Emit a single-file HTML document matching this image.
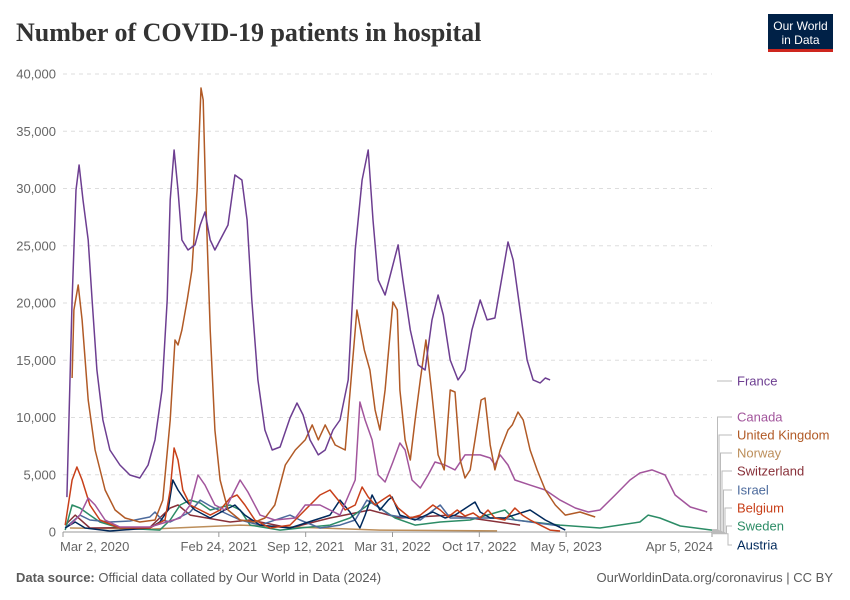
<!DOCTYPE html>
<html><head><meta charset="utf-8"><style>
body{margin:0;background:#fff;font-family:"Liberation Sans",sans-serif;}
#wrap{position:relative;width:850px;height:600px;overflow:hidden;}
</style></head><body>
<div id="wrap">
<svg id="chart" width="850" height="600" xmlns="http://www.w3.org/2000/svg">
<text x="16" y="41" font-family="Liberation Serif,serif" font-size="26" font-weight="bold" fill="#333">Number of COVID-19 patients in hospital</text>
<g>
<rect x="768" y="14" width="65" height="37" fill="#002147"/>
<rect x="768" y="49" width="65" height="3" fill="#ce261e"/>
<text x="800.5" y="30" text-anchor="middle" font-size="12" fill="#fff">Our World</text>
<text x="800.5" y="44" text-anchor="middle" font-size="12" fill="#fff">in Data</text>
</g>
<g id="grid"></g><g id="xaxis"></g><g id="series"></g><g id="legend"></g>
<text x="16" y="582" font-size="13" fill="#5b5b5b"><tspan font-weight="bold">Data source:</tspan> Official data collated by Our World in Data (2024)</text>
<text x="833" y="582" text-anchor="end" font-size="13" fill="#5b5b5b">OurWorldinData.org/coronavirus | CC BY</text>
</svg></div>
<script>
const yTicks=[0,5000,10000,15000,20000,25000,30000,35000,40000];
const xTickDays=[0,359,559,759,959,1159,1495];
const xTickLabels=["Mar 2, 2020","Feb 24, 2021","Sep 12, 2021","Mar 31, 2022","Oct 17, 2022","May 5, 2023","Apr 5, 2024"];
const seriesNames=["France","Canada","United Kingdom","Norway","Switzerland","Israel","Belgium","Sweden","Austria"];
const seriesColors=["#6D3E91","#A2559C","#B15A26","#BC8E5A","#883039","#4C6A9C","#C8401A","#2C8C66","#00295B"];
const france=[[9,3050],[21,20260],[30,29870],[37,32050],[46,29000],[58,25500],[67,20260],[78,14150],[92,9780],[108,7160],[131,5850],[154,4980],[177,4720],[196,5850],[212,8040],[228,12400],[240,20260],[247,29000],[256,33360],[265,29870],[274,25500],[288,24630],[304,25070],[316,26810],[327,27950],[339,25500],[350,24630],[362,25500],[380,26810],[396,31180],[412,30740],[424,27250],[435,20260],[449,13280],[465,8910],[482,7160],[500,7420],[523,9960],[539,11270],[553,10220],[569,8040],[588,6730],[604,7160],[622,8910],[638,9780],[657,13280],[673,24630],[689,30740],[703,33360],[714,27250],[726,22010],[742,20700],[757,22880],[772,25070],[783,22010],[800,17640],[818,14590],[834,14150],[850,18520],[864,20700],[876,18950],[892,15020],[910,13280],[926,14150],[942,17640],[961,20260],[977,18520],[995,18690],[1014,22880],[1025,25330],[1037,23750],[1053,19390],[1069,15020],[1083,13280],[1099,13010],[1111,13450],[1122,13280]];
const uk=[[21,13450],[25,19390],[35,21570],[44,18520],[58,11530],[74,7160],[97,3670],[120,1920],[143,1220],[177,870],[212,1050],[230,2790],[247,9780],[258,16770],[265,16330],[274,17640],[286,20260],[297,22880],[309,29870],[318,38780],[323,37730],[329,29000],[339,17640],[350,8910],[362,4540],[380,1920],[408,1050],[442,870],[465,1220],[488,2360],[512,5850],[535,7160],[558,8040],[574,9350],[588,8040],[604,9350],[627,7600],[650,7160],[677,19390],[694,15900],[707,14150],[719,10660],[730,8910],[742,12400],[760,20090],[770,19390],[776,12400],[788,8040],[800,6290],[811,9780],[823,13280],[836,16770],[850,11970],[864,6730],[878,5420],[892,12400],[903,12230],[915,6290],[926,4720],[938,5420],[949,8040],[963,11530],[972,11700],[984,7600],[995,5420],[1007,7160],[1025,8910],[1035,9350],[1048,10480],[1060,9780],[1076,7160],[1092,5420],[1111,3670],[1134,2360],[1157,1480],[1191,1750],[1226,1310]];
const canada=[[16,600],[39,1480],[58,2970],[74,2360],[97,1050],[131,440],[200,440],[270,1220],[293,2360],[311,4980],[327,4100],[350,2360],[373,1920],[408,4540],[426,3490],[454,1480],[488,1050],[535,1220],[558,2360],[592,2360],[638,1480],[673,4540],[684,11350],[696,9780],[712,8040],[726,4980],[742,4370],[760,6110],[776,7770],[788,7160],[804,4540],[823,3840],[841,4980],[857,6110],[880,5850],[903,5420],[926,6730],[961,6730],[984,6460],[995,5850],[1007,6730],[1025,5850],[1041,4540],[1076,4100],[1111,3670],[1145,2790],[1180,2100],[1210,1750],[1237,1920],[1272,3230],[1306,4540],[1329,5150],[1357,5420],[1387,4980],[1410,3230],[1445,2180],[1484,1750]];
const norway=[[16,350],[200,250],[408,600],[730,170],[1000,100]];
const switzerland=[[5,600],[28,1480],[62,350],[200,400],[247,2100],[265,2360],[293,1480],[385,870],[431,1050],[523,350],[615,1220],[707,1920],[776,1220],[892,1480],[1053,600]];
const israel=[[5,350],[39,1480],[62,1050],[108,870],[154,960],[200,1310],[212,1750],[228,1050],[247,870],[293,1750],[316,2790],[339,2270],[373,1660],[408,1050],[454,600],[523,1480],[546,1050],[592,350],[638,600],[673,1050],[700,2790],[719,2360],[753,1480],[823,1050],[869,2360],[892,1220],[1007,1220],[1145,520]];
const belgium=[[5,600],[21,4540],[32,5680],[44,4540],[62,2360],[85,1050],[131,350],[200,350],[235,1050],[247,3670],[256,7340],[265,6290],[276,3670],[293,2360],[316,1920],[339,1480],[362,1920],[385,2970],[401,3230],[419,2360],[442,1050],[477,350],[523,600],[546,1480],[569,2360],[592,3230],[615,3670],[634,2790],[650,1920],[673,2360],[689,3930],[703,3060],[719,2360],[735,2790],[753,3230],[772,2100],[800,1220],[823,1480],[852,2360],[869,1920],[887,1310],[908,1920],[926,1400],[945,1660],[961,1220],[979,1920],[995,1220],[1018,1050],[1041,2100],[1058,1480],[1076,1050],[1099,600],[1122,170],[1145,90]];
const sweden=[[5,170],[21,2360],[39,2100],[62,1480],[85,870],[131,350],[223,170],[247,1050],[270,2360],[293,2790],[316,2530],[339,1920],[385,2360],[408,1920],[431,600],[500,170],[546,350],[615,600],[661,1220],[712,2620],[730,2100],[765,1220],[811,600],[869,870],[938,1050],[1018,1920],[1041,1050],[1145,600],[1237,350],[1329,870],[1348,1480],[1375,1220],[1422,520],[1495,170]];
const austria=[[5,350],[28,870],[51,350],[108,90],[200,350],[223,870],[242,1920],[253,4540],[265,3670],[281,2790],[304,1920],[339,1220],[373,1920],[396,2360],[419,1480],[454,600],[523,350],[615,1480],[638,2790],[661,1750],[684,350],[696,1480],[712,3230],[730,1920],[749,2790],[758,3060],[776,1480],[811,1050],[852,1750],[880,1220],[903,1480],[949,2620],[961,1750],[984,1220],[1018,1220],[1076,1920],[1111,1050],[1157,170]];
const seriesData=[france,canada,uk,norway,switzerland,israel,belgium,sweden,austria];
const drawOrder=[3,4,7,5,8,6,1,2,0];
const legendY=[381,417,435,453,471,490,508,526,545];

const NS="http://www.w3.org/2000/svg";
const X0=63,X1=712,Y0=532,Y1=74,DMAX=1495,VMAX=40000;
const xs=d=>X0+(X1-X0)*d/DMAX;
const ys=v=>Y0-(Y0-Y1)*v/VMAX;
function mk(t,a){const e=document.createElementNS(NS,t);for(const k in a)e.setAttribute(k,a[k]);return e;}
const grid=document.getElementById('grid');
yTicks.forEach(v=>{
  const l=mk('line',{x1:X0,x2:X1,y1:ys(v),y2:ys(v),stroke:v===0?'#999':'#ddd','stroke-dasharray':v===0?'':'4,4'});
  
  
  grid.appendChild(l);
  const t=mk('text',{x:56,y:ys(v)+4.5,'text-anchor':'end','font-size':13,fill:'#666'});
  t.textContent=v.toLocaleString('en-US');
  
  
  grid.appendChild(t);
});
const xa=document.getElementById('xaxis');
xTickDays.forEach((d,i)=>{
  const tk=mk('line',{x1:xs(d),x2:xs(d),y1:Y0,y2:Y0+5,stroke:'#999'});
  
  
  xa.appendChild(tk);
  const anchor=i===xTickDays.length-1?'end':(i===0?'start':'middle');
  const t=mk('text',{x:i===xTickDays.length-1?xs(d)+1:(i===0?xs(d)-3:xs(d)),y:551,'text-anchor':anchor,'font-size':13,fill:'#666'});
  t.textContent=xTickLabels[i];
  
  
  xa.appendChild(t);
});
const sg=document.getElementById('series');
drawOrder.forEach(i=>{
  const p=mk('path',{d:seriesData[i].map((pt,j)=>(j?'L':'M')+xs(pt[0]).toFixed(1)+','+ys(pt[1]).toFixed(1)).join(''),fill:'none',stroke:seriesColors[i],'stroke-width':1.5,'stroke-linejoin':'round'});
  
  
  sg.appendChild(p);
});
const lg=document.getElementById('legend');
seriesNames.forEach((n,i)=>{
  const d=seriesData[i];const last=d[d.length-1];
  const ly=legendY[i];
  let path;
  if(i===0){path=`M717,${ly}L732,${ly}`;}
  else{const bx=716+Math.min(i,8)*1.5;const sy=Y0-3+i*0.6;path=`M712,${sy}L${bx},${sy}L${bx},${ly}L732,${ly}`;}
  const c=mk('path',{d:path,fill:'none',stroke:'#bbb','stroke-width':1});
  
  
  lg.appendChild(c);
  const t=mk('text',{x:737,y:ly+4.5,'font-size':13,fill:seriesColors[i]});
  t.textContent=n;
  
  
  lg.appendChild(t);
});
</script>
</body></html>
